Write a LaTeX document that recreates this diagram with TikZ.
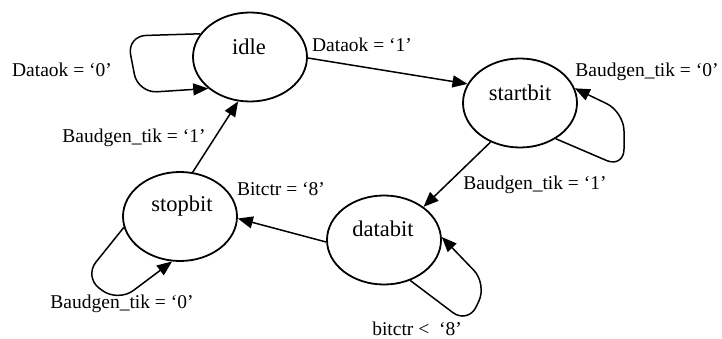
\documentclass[tikz,border=0pt]{standalone}
\usepackage{fontspec}
\setmainfont{Liberation Serif}
\usetikzlibrary{arrows.meta,shapes.geometric}

\tikzset{
  state/.style={ellipse, draw, line width=1.8pt, inner sep=0pt,
                minimum width=114pt, minimum height=89pt},
  statename/.style={font=\fontsize{22.5}{26}\selectfont, inner sep=0pt},
  cond/.style={font=\fontsize{19.5}{23}\selectfont, inner sep=0pt},
  trans/.style={line width=1.5pt, -{Triangle[length=15pt,width=12pt]}},
  selfloop/.style={trans, rounded corners=19pt},
}

\begin{document}
\begin{tikzpicture}[x=1pt, y=-1pt]
  \useasboundingbox[fill=white] (0,0) rectangle (722,339);

  % states
  \node[state] (idle)     at (250,57)    {};
  \node[state] (startbit) at (520,103)   {};
  \node[state] (stopbit)  at (180,216.5) {};
  \node[state] (databit)  at (384,240)   {};

  \node[statename] (tidle)  at (249,47)  {idle};
  \node[statename] (tstart) at (520,93)  {startbit};
  \node[statename] (tstop)  at (182,206) {stopbit};
  \node[statename] (tdata)  at (383,229) {databit};

  % transitions between states
  \draw[trans] (idle.-1)     -- (startbit.160);
  \draw[trans] (startbit.233) -- (databit.40);
  \draw[trans] (databit.182)  -- (stopbit.-2);
  \draw[trans] (stopbit.74)   -- (idle.255);

  % self loops
  \draw[selfloop] (idle.155) -- (127,36) -- (138,93) -- (idle.217);
  \draw[selfloop] (startbit.-45) -- (624,168) -- (624,112) -- (startbit.15);
  \draw[selfloop] (databit.-57) -- (468,324) -- (487,284) -- (databit.3);
  \draw[selfloop] (stopbit.191) -- (84,277) -- (118,302) -- (stopbit.260);

  % conditions
  \node[cond] (c1) at (62,70)   {Dataok = ‘0’};
  \node[cond] (c2) at (362,45)  {Dataok = ‘1’};
  \node[cond] (c3) at (647,72)  {Baudgen\_tik = ‘0’};
  \node[cond] (c4) at (535,185) {Baudgen\_tik = ‘1’};
  \node[cond] (c5) at (281,189) {Bitctr = ‘8’};
  \node[cond] (c6) at (134,138) {Baudgen\_tik = ‘1’};
  \node[cond] (c7) at (122,304) {Baudgen\_tik = ‘0’};
  \node[cond] (c8) at (417,329) {bitctr <\ \ ‘8’};
\end{tikzpicture}
\end{document}
